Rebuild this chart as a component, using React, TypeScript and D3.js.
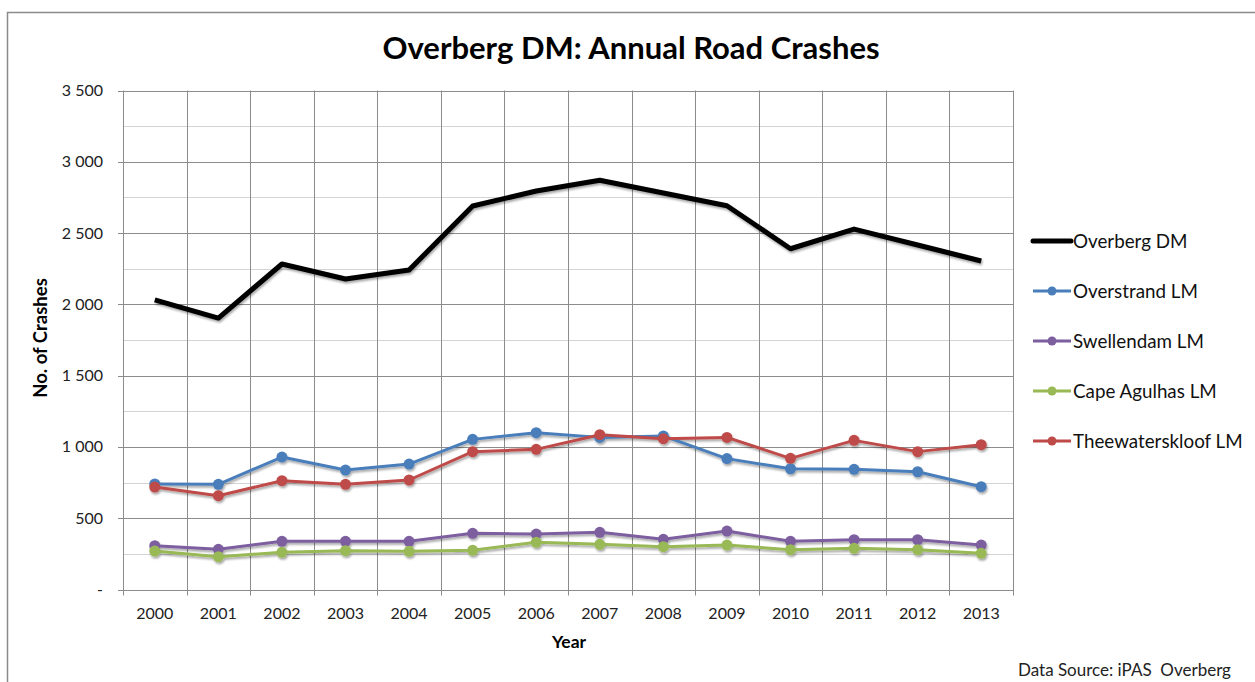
import { useEffect, useRef } from "react";
import * as d3 from "d3";

const years = ["2000", "2001", "2002", "2003", "2004", "2005", "2006", "2007", "2008", "2009", "2010", "2011", "2012", "2013"];

const overbergDM = [2031, 1904, 2283, 2178, 2241, 2690, 2795, 2870, 2781, 2692, 2390, 2528, 2416, 2304];
const overstrandLM = [740, 738, 929, 838, 880, 1053, 1100, 1067, 1077, 918, 847, 843, 826, 721];
const swellendamLM = [307, 282, 338, 338, 338, 394, 389, 401, 352, 410, 338, 349, 349, 312];
const capeAgulhasLM = [270, 230, 261, 272, 268, 275, 331, 317, 300, 312, 279, 289, 279, 254];
const theewaterskloofLM = [719, 658, 763, 738, 768, 967, 983, 1086, 1058, 1067, 920, 1046, 967, 1016];

const yTicks = [0, 500, 1000, 1500, 2000, 2500, 3000, 3500];
const yMinorTicks = [250, 750, 1250, 1750, 2250, 2750, 3250];

const series = [
  { name: "Overberg DM", values: overbergDM, color: "#000000", width: 5, markers: false },
  { name: "Overstrand LM", values: overstrandLM, color: "#4A7EBB", width: 3, markers: true },
  { name: "Swellendam LM", values: swellendamLM, color: "#7D5FA0", width: 3, markers: true },
  { name: "Cape Agulhas LM", values: capeAgulhasLM, color: "#98B954", width: 3, markers: true },
  { name: "Theewaterskloof LM", values: theewaterskloofLM, color: "#BE4B48", width: 3, markers: true },
];

const FONT = "Lato, 'Open Sans', sans-serif";

function App() {
  const ref = useRef<SVGSVGElement | null>(null);

  useEffect(() => {
    document.body.style.margin = "0";
    const svg = d3.select(ref.current);
    svg.selectAll("*").remove();

    const left = 123, right = 1013, top = 90.5, bottom = 589.5;

    const x = d3.scaleBand().domain(years).range([left, right]);
    const y = d3.scaleLinear().domain([0, 3500]).range([bottom, top]);

    const defs = svg.append("defs");
    const f = defs.append("filter").attr("id", "shadow").attr("x", "-10%").attr("y", "-10%").attr("width", "120%").attr("height", "140%");
    f.append("feDropShadow").attr("dx", 1).attr("dy", 2).attr("stdDeviation", 1.3).attr("flood-color", "#000").attr("flood-opacity", 0.35);

    // outer frame
    svg.append("rect").attr("x", 7.5).attr("y", 12.5).attr("width", 1260).attr("height", 700)
      .attr("fill", "white").attr("stroke", "#8a8a8a").attr("stroke-width", 1.5);

    // title
    svg.append("text").attr("x", 631).attr("y", 59).attr("text-anchor", "middle")
      .attr("font-family", FONT).attr("font-weight", "bold").attr("font-size", 31)
      .attr("fill", "#000").text("Overberg DM: Annual Road Crashes");

    // gridlines
    const grid = svg.append("g");
    grid.selectAll(".minor").data(yMinorTicks).join("line")
      .attr("x1", left).attr("x2", right)
      .attr("y1", (d) => Math.round(y(d)) + 0.5).attr("y2", (d) => Math.round(y(d)) + 0.5)
      .attr("stroke", "#d4d4d4").attr("stroke-width", 1.2);
    grid.selectAll(".major").data(yTicks.slice(1)).join("line")
      .attr("x1", left - 5).attr("x2", right)
      .attr("y1", (d) => Math.round(y(d)) + 0.5).attr("y2", (d) => Math.round(y(d)) + 0.5)
      .attr("stroke", "#8c8c8c").attr("stroke-width", 1);
    const bounds = years.map((yr) => x(yr) as number).concat([right]);
    grid.selectAll(".vert").data(bounds).join("line")
      .attr("x1", (d) => Math.round(d) + 0.5).attr("x2", (d) => Math.round(d) + 0.5)
      .attr("y1", top).attr("y2", bottom + 6)
      .attr("stroke", "#8c8c8c").attr("stroke-width", 1);

    // x axis line
    svg.append("line").attr("x1", left - 5).attr("x2", right)
      .attr("y1", Math.round(bottom) + 0.5).attr("y2", Math.round(bottom) + 0.5)
      .attr("stroke", "#8c8c8c");

    // y tick labels
    svg.append("g").selectAll("text").data(yTicks).join("text")
      .attr("x", 103).attr("y", (d) => y(d) + 5.5).attr("text-anchor", "end")
      .attr("font-family", FONT).attr("font-size", 16).attr("fill", "#222")
      .text((d) => (d === 0 ? "-" : d3.format(",")(d).replace(",", " ")));

    // x tick labels
    svg.append("g").selectAll("text").data(years).join("text")
      .attr("x", (d) => (x(d) as number) + x.bandwidth() / 2).attr("y", 619)
      .attr("text-anchor", "middle")
      .attr("font-family", FONT).attr("font-size", 16).attr("fill", "#222")
      .text((d) => d);

    // axis titles
    svg.append("text").attr("x", 569).attr("y", 648).attr("text-anchor", "middle")
      .attr("font-family", FONT).attr("font-weight", "bold").attr("font-size", 17.5).text("Year");
    svg.append("text").attr("transform", "translate(47,338) rotate(-90)").attr("text-anchor", "middle")
      .attr("font-family", FONT).attr("font-weight", "bold").attr("font-size", 18.5).text("No. of Crashes");

    // lines
    const lineGen = d3.line<number>()
      .x((_, i) => (x(years[i]) as number) + x.bandwidth() / 2)
      .y((d) => y(d));

    const plot = svg.append("g").attr("filter", "url(#shadow)");
    series.forEach((s) => {
      const g = plot.append("g");
      g.append("path").datum(s.values).attr("d", lineGen)
        .attr("fill", "none").attr("stroke", s.color).attr("stroke-width", s.width)
        .attr("stroke-linejoin", "round");
      if (s.markers) {
        g.selectAll("circle").data(s.values).join("circle")
          .attr("cx", (_, i) => (x(years[i]) as number) + x.bandwidth() / 2)
          .attr("cy", (d) => y(d)).attr("r", 5.5).attr("fill", s.color);
      }
    });

    // legend
    const legend = svg.append("g");
    series.forEach((s, i) => {
      const ly = 241 + i * 50;
      const g = legend.append("g");
      g.append("line").attr("x1", 1033).attr("x2", 1071).attr("y1", ly).attr("y2", ly)
        .attr("stroke", s.color).attr("stroke-width", s.width).attr("stroke-linecap", s.markers ? "butt" : "round");
      if (s.markers) g.append("circle").attr("cx", 1052).attr("cy", ly).attr("r", 4.5).attr("fill", s.color);
      g.append("text").attr("x", 1073).attr("y", ly + 6.5).attr("font-family", FONT).attr("font-size", 18.8)
        .attr("fill", "#111").text(s.name);
    });

    svg.append("text").attr("x", 1018).attr("y", 676).attr("font-family", FONT).attr("font-size", 17)
      .attr("fill", "#222").style("white-space", "pre").text("Data Source: iPAS  Overberg");
  }, []);

  return <svg ref={ref} width={1255} height={682} style={{ display: "block" }} />;
}

export default App;
